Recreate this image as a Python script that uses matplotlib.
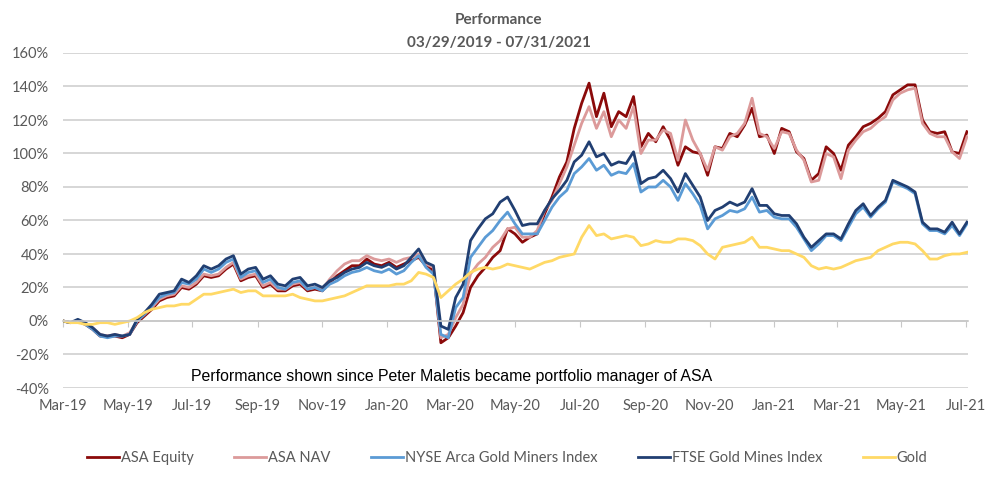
import numpy as np
import pandas as pd
import matplotlib
matplotlib.use('Agg')
import matplotlib.pyplot as plt
import matplotlib.dates as mdates
import matplotlib.transforms as mtransforms

# weekly closes, % change since 03/29/2019
dates = pd.date_range('2019-03-29', periods=123, freq='7D')

asa_equity = [0, -1, 0, -2, -5, -9, -9, -9, -10, -8,
              -1, 3, 7, 12, 14, 15, 20, 19, 22, 27,
              26, 27, 31, 34, 24, 26, 27, 20, 22, 18,
              18, 21, 22, 18, 19, 18, 23, 27, 30, 33,
              33, 37, 34, 33, 35, 32, 34, 36, 38, 33,
              30, -13, -10, -3, 5, 20, 27, 32, 38, 42,
              55, 52, 47, 50, 52, 64, 74, 86, 95, 115,
              130, 142, 122, 136, 116, 125, 122, 134, 104, 112,
              107, 116, 108, 93, 104, 101, 100, 87, 104, 103,
              112, 110, 117, 127, 110, 111, 100, 115, 113, 101,
              97, 84, 88, 104, 100, 90, 105, 110, 116, 118,
              121, 125, 135, 138, 141, 141, 120, 113, 112, 113,
              101, 100, 113]

asa_nav = [0, -1, 0, -2, -4, -8, -9, -8, -9, -7,
           0, 4, 8, 13, 15, 16, 21, 20, 23, 28,
           27, 28, 32, 35, 25, 27, 28, 21, 23, 19,
           19, 22, 23, 19, 20, 19, 25, 30, 34, 36,
           36, 39, 37, 36, 37, 35, 37, 38, 40, 34,
           32, -10, -8, 2, 10, 28, 34, 38, 44, 48,
           55, 56, 50, 50, 54, 66, 72, 82, 92, 105,
           118, 128, 115, 125, 110, 120, 115, 128, 100, 108,
           108, 114, 112, 96, 120, 108, 100, 90, 104, 102,
           110, 112, 118, 133, 112, 110, 103, 113, 112, 102,
           96, 83, 84, 100, 98, 85, 102, 108, 113, 115,
           119, 122, 132, 136, 138, 139, 118, 112, 110, 110,
           101, 97, 110]

nyse_arca = [0, -1, 0, -2, -5, -9, -10, -9, -9, -8,
             0, 4, 9, 14, 16, 17, 23, 22, 25, 31,
             29, 31, 35, 37, 26, 29, 30, 23, 25, 20,
             19, 23, 24, 19, 20, 18, 22, 24, 27, 29,
             30, 32, 30, 29, 31, 28, 30, 35, 39, 32,
             28, -8, -10, 8, 14, 38, 44, 50, 54, 60,
             65, 58, 52, 52, 52, 60, 68, 74, 78, 88,
             92, 97, 90, 93, 87, 89, 88, 94, 77, 80,
             80, 84, 80, 72, 82, 76, 69, 55, 61, 63,
             66, 65, 67, 74, 65, 66, 62, 61, 61, 56,
             49, 42, 46, 51, 51, 48, 56, 64, 68, 62,
             67, 71, 83, 81, 79, 76, 58, 54, 54, 52,
             57, 51, 58]

ftse = [0, -1, 1, -1, -4, -8, -9, -8, -9, -8,
        1, 5, 10, 16, 17, 18, 25, 23, 27, 33,
        31, 33, 37, 39, 28, 31, 32, 25, 27, 22,
        21, 25, 26, 21, 22, 20, 24, 26, 29, 31,
        32, 35, 33, 32, 34, 31, 33, 38, 43, 35,
        33, -3, -5, 14, 22, 48, 55, 61, 64, 71,
        74, 66, 57, 58, 58, 66, 73, 78, 84, 95,
        99, 107, 98, 100, 93, 95, 94, 101, 82, 85,
        86, 90, 85, 77, 88, 81, 74, 60, 66, 68,
        71, 69, 71, 79, 69, 69, 64, 63, 63, 58,
        50, 44, 48, 52, 52, 49, 58, 66, 70, 63,
        68, 72, 84, 82, 80, 77, 59, 55, 55, 53,
        59, 52, 59]

gold = [0, -1, -1, -2, -2, -1, -1, -2, -1, 0,
        2, 5, 7, 8, 9, 9, 10, 10, 13, 16,
        16, 17, 18, 19, 17, 18, 18, 15, 15, 15,
        15, 16, 14, 13, 12, 12, 13, 14, 15, 17,
        19, 21, 21, 21, 21, 22, 22, 24, 29, 28,
        26, 14, 18, 22, 25, 29, 31, 32, 31, 32,
        34, 33, 32, 31, 33, 35, 36, 38, 39, 40,
        50, 57, 51, 52, 49, 50, 51, 50, 45, 46,
        48, 47, 47, 49, 49, 48, 45, 40, 37, 44,
        45, 46, 47, 50, 44, 44, 43, 42, 42, 40,
        38, 33, 31, 32, 31, 32, 34, 36, 37, 38,
        42, 44, 46, 47, 47, 46, 42, 37, 37, 39,
        40, 40, 41]

series = [('ASA Equity', asa_equity, '#8b0a0a'),
          ('ASA NAV', asa_nav, '#dc9a9a'),
          ('NYSE Arca Gold Miners Index', nyse_arca, '#5b9bd5'),
          ('FTSE Gold Mines Index', ftse, '#213f72'),
          ('Gold', gold, '#ffd966')]

plt.rcParams['font.family'] = ['Lato', 'DejaVu Sans']
grey = '#595959'

fig = plt.figure(figsize=(9.89, 4.90), dpi=100)
ax = fig.add_axes([63/989, 1 - 388/490, 905/989, 335/490])

for name, vals, col in series:
    ax.plot(dates, vals, color=col, lw=2.0, label=name)

ax.set_ylim(-40, 160)
ax.set_yticks(np.arange(-40, 161, 20))
ax.set_yticklabels([f'{v}%' for v in range(-40, 161, 20)])
ax.yaxis.grid(True, color='#d0d0d0', lw=1.2)
ax.set_axisbelow(True)

ax.set_xlim(pd.Timestamp('2019-03-29'), pd.Timestamp('2021-07-31'))
ax.set_xticks(pd.date_range('2019-03-29', '2021-07-29', freq=pd.DateOffset(months=2)))
ax.xaxis.set_major_formatter(mdates.DateFormatter('%b-%y'))

for s in ['top', 'right', 'left']:
    ax.spines[s].set_visible(False)
ax.spines['bottom'].set_position(('data', 0))
ax.spines['bottom'].set_color('#c8c8c8')
ax.spines['bottom'].set_linewidth(1.2)
ax.tick_params(axis='x', direction='out', length=4, color='#c8c8c8',
               pad=52, labelsize=10.5, labelcolor=grey)
ax.tick_params(axis='y', length=0, pad=10, labelsize=10.5, labelcolor=grey)

trans = mtransforms.blended_transform_factory(ax.transAxes, ax.transData)
ax.text(0.4295, -33.4, 'Performance shown since Peter Maletis became portfolio manager of ASA',
        transform=trans, ha='center', va='center', fontsize=11.4,
        family='Liberation Sans', color='black')

fig.text(0.5045, 1 - 20/490, 'Performance', ha='center', va='center',
         fontsize=11, fontweight='bold', color=grey)
fig.text(0.5045, 1 - 43/490, '03/29/2019 - 07/31/2021', ha='center', va='center',
         fontsize=11, fontweight='bold', color=grey)

fig.legend(loc='center', bbox_to_anchor=(0.513, 1 - 458/490), ncol=5, frameon=False,
           fontsize=10.5, labelcolor=grey, handlelength=2.2, handletextpad=0.15,
           columnspacing=2.75)

fig.savefig('out.png', dpi=100)
